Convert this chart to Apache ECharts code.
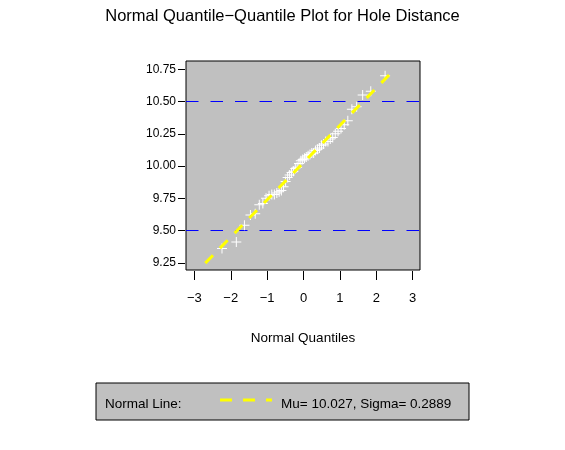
<!DOCTYPE html>
<html>
<head>
<meta charset="utf-8">
<script src="https://cdn.jsdelivr.net/npm/echarts@6/dist/echarts.min.js"></script>
<style>
html,body{margin:0;padding:0;background:#fff;}
#c{width:565px;height:450px;}
</style>
</head>
<body>
<div id="c"></div>
<script>
// Normal quantiles (x) of the 50 ordered observations
var quantiles = [-2.241,-1.847,-1.624,-1.459,-1.328,-1.216,-1.118,-1.030,-0.948,-0.872,
  -0.802,-0.734,-0.670,-0.609,-0.550,-0.493,-0.437,-0.383,-0.330,-0.278,
  -0.227,-0.176,-0.125,-0.075,-0.025,0.025,0.075,0.125,0.176,0.227,
  0.278,0.330,0.383,0.437,0.493,0.550,0.609,0.670,0.734,0.802,
  0.872,0.948,1.030,1.118,1.216,1.328,1.459,1.624,1.847,2.241];
// Ordered hole distances (y)
var distances = [9.36,9.41,9.54,9.62,9.63,9.70,9.71,9.75,9.77,9.78,
  9.78,9.79,9.80,9.81,9.84,9.88,9.91,9.93,9.95,9.96,
  9.98,9.99,10.02,10.04,10.05,10.06,10.07,10.08,10.09,10.10,
  10.10,10.12,10.13,10.14,10.16,10.17,10.19,10.19,10.21,10.22,
  10.25,10.27,10.29,10.32,10.35,10.44,10.46,10.55,10.58,10.70];
// Normal reference line endpoints
var lineX = [-2.70, 2.50];
var lineY = [9.247, 10.749];
var refLines = [9.5, 10.5];
var xTicks = [-3,-2,-1,0,1,2,3];
var yTicks = [9.25,9.5,9.75,10,10.25,10.5,10.75];
var muText = '10.027';
var sigmaText = '0.2889';
var titleText = 'Normal Quantile\u2212Quantile Plot for Hole Distance';

var FONT = 'Liberation Sans, Arial, Helvetica, sans-serif';
var X_MIN = -3.23, X_MAX = 3.2;
var Y_MIN = 9.1938, Y_MAX = 10.814;
var pts = quantiles.map(function(q,i){return [q, distances[i]];});
var linePts = lineX.map(function(x,i){return [x, lineY[i]];});

var refSeries = refLines.map(function(v){
  return {type:'line',data:[[X_MIN,v],[X_MAX,v]],symbol:'none',z:2,silent:true,
    lineStyle:{color:'#0000ff',width:1,type:[12.5,12]}};
});

var chart = echarts.init(document.getElementById('c'), null, {renderer:'canvas'});
chart.setOption({
  animation:false,
  backgroundColor:'#ffffff',
  title:{text:titleText,left:'center',top:3,
    textStyle:{fontFamily:FONT,fontSize:16.5,fontWeight:'normal',color:'#000'}},
  grid:{left:186,right:145,top:61,bottom:180,show:true,backgroundColor:'#c0c0c0',
    borderColor:'#000',borderWidth:1},
  xAxis:{type:'value',min:X_MIN,max:X_MAX,offset:1,position:'bottom',
    name:'Normal Quantiles',nameLocation:'middle',nameGap:60,
    nameTextStyle:{fontFamily:FONT,fontSize:13.5,color:'#000'},
    axisLine:{show:false,onZero:false},
    axisTick:{show:true,length:9,customValues:xTicks,lineStyle:{color:'#000',width:1}},
    axisLabel:{customValues:xTicks,margin:21,fontFamily:FONT,fontSize:13,color:'#000',
      formatter:function(v){return (v<0?'\u2212':'')+Math.abs(v);}},
    splitLine:{show:false}},
  yAxis:{type:'value',min:Y_MIN,max:Y_MAX,offset:1,position:'left',
    axisLine:{show:false,onZero:false},
    axisTick:{show:true,length:7,customValues:yTicks,lineStyle:{color:'#000',width:1}},
    axisLabel:{customValues:yTicks,margin:9,fontFamily:FONT,fontSize:12,color:'#000',
      formatter:function(v){return v.toFixed(2);}},
    splitLine:{show:false}},
  series:refSeries.concat([
    {type:'scatter',data:pts,symbol:'path://M4.5,0h1v10h-1z M0,4.5h10v1h-10z',symbolSize:10,
      itemStyle:{color:'#ffffff',opacity:1},z:3},
    {type:'line',data:linePts,symbol:'none',z:4,
      lineStyle:{color:'#ffff00',width:3,type:[11,10]}}
  ]),
  graphic:[
    {type:'rect',shape:{x:96,y:383,width:373,height:37},
      style:{fill:'#c0c0c0',stroke:'#000',lineWidth:1}},
    {type:'text',x:105,y:404,style:{text:'Normal Line:',fill:'#000',font:'13.5px '+FONT,textVerticalAlign:'middle'}},
    {type:'line',shape:{x1:220,y1:400,x2:272,y2:400},
      style:{stroke:'#ffff00',lineWidth:3,lineDash:[12,11]}},
    {type:'text',x:281,y:404,style:{text:'Mu= '+muText+', Sigma= '+sigmaText,fill:'#000',font:'13.5px '+FONT,textVerticalAlign:'middle'}}
  ]
});
</script>
</body>
</html>
